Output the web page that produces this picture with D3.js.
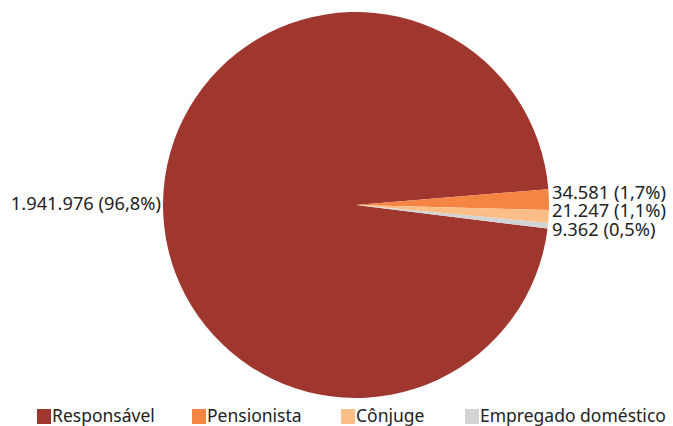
<!DOCTYPE html>
<html><head><meta charset="utf-8">
<script src="https://cdn.jsdelivr.net/npm/d3@7"></script>
<style>body{margin:0;background:#fff}svg{display:block}text{font-family:"Noto Sans",sans-serif;fill:#222}</style>
</head><body><svg width="673" height="426"></svg>
<script>
const categories = ["Responsável","Pensionista","Cônjuge","Empregado doméstico"];
const values = [1941976, 34581, 21247, 9362];
const labels = ["1.941.976 (96,8%)","34.581 (1,7%)","21.247 (1,1%)","9.362 (0,5%)"];
const colors = ["#A0372F","#F58543","#FBBE87","#D2D3D5"];

const svg = d3.select("svg");
const cx = 356, cy = 205, r = 193;
const startA = 97.0 * Math.PI/180;
const pie = d3.pie().sort(null).startAngle(startA).endAngle(startA + 2*Math.PI);
const arcs = pie(values);
const arc = d3.arc().innerRadius(0).outerRadius(r);
const g = svg.append("g").attr("transform",`translate(${cx},${cy})`);
g.selectAll("path").data(arcs).join("path").attr("d",arc).attr("fill",(d,i)=>colors[i]);

// labels
const fs = 18.3;
svg.append("text").attr("x",cx - r - 2).attr("y",210).attr("text-anchor","end")
  .attr("font-size",fs).text(labels[0]);
const rightY = [198.5, 217, 235.5];
labels.slice(1).forEach((t,i)=>{
  svg.append("text").attr("x",cx + r + 3).attr("y",rightY[i])
    .attr("font-size",fs).text(t);
});

// legend
const legX = [37, 192, 341, 465];
const lg = svg.append("g");
categories.forEach((c,i)=>{
  lg.append("rect").attr("x",legX[i]).attr("y",409).attr("width",14).attr("height",15).attr("fill",colors[i]);
  lg.append("text").attr("x",legX[i]+15).attr("y",422).attr("font-size",17.5).text(c);
});
</script></body></html>
